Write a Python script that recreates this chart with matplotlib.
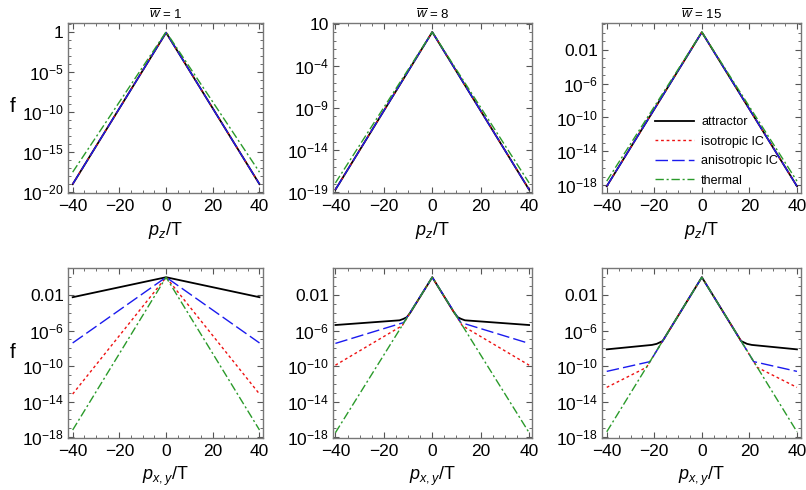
import numpy as np
import matplotlib
matplotlib.use("Agg")
from matplotlib import pyplot as plt
from matplotlib.ticker import FixedLocator, NullFormatter

plt.rcParams['font.family'] = ['Liberation Sans', 'DejaVu Sans']
plt.rcParams['mathtext.fontset'] = 'custom'
plt.rcParams['mathtext.rm'] = 'Liberation Sans'
plt.rcParams['mathtext.it'] = 'Liberation Sans:italic'

# series names and styles
names = ["attractor", "isotropic IC", "anisotropic IC", "thermal"]
titles = [r"$\overline{w}$ = 1", r"$\overline{w}$ = 8", r"$\overline{w}$ = 15"]

# ---- top row: f vs p_z/T (log10 f read at the points) ----
pz = [-40, 0, 40]
top_w1 = {
    "attractor": [-19.0, -0.1, -19.0],
    "isotropic IC": [-19.0, -0.1, -19.0],
    "anisotropic IC": [-19.0, -0.1, -19.0],
    "thermal": [-17.5, 0.0, -17.5],
}
top_w8 = {
    "attractor": [-18.7, 0.05, -18.7],
    "isotropic IC": [-18.7, 0.05, -18.7],
    "anisotropic IC": [-18.7, 0.05, -18.7],
    "thermal": [-17.9, 0.05, -17.9],
}
top_w15 = {
    "attractor": [-18.1, 0.05, -18.1],
    "isotropic IC": [-18.1, 0.05, -18.1],
    "anisotropic IC": [-18.1, 0.05, -18.1],
    "thermal": [-17.5, 0.05, -17.5],
}

# ---- bottom row: f vs p_xy/T ----
bot_w1 = {
    "attractor": ([-40, 0, 40], [-2.25, 0.0, -2.25]),
    "isotropic IC": ([-40, 0, 40], [-13.15, 0.0, -13.15]),
    "anisotropic IC": ([-40, 0, 40], [-7.4, 0.0, -7.4]),
    "thermal": ([-40, 0, 40], [-17.2, 0.0, -17.2]),
}
bot_w8 = {
    "attractor": ([-40, -13.5, -12, -10.5, -9, 0, 9, 10.5, 12, 13.5, 40],
                  [-5.38, -4.85, -4.7, -4.5, -3.96, 0.0, -3.96, -4.5, -4.7, -4.85, -5.38]),
    "isotropic IC": ([-40, -12.4, 0, 12.4, 40], [-9.9, -5.45, 0.0, -5.45, -9.9]),
    "anisotropic IC": ([-40, -11.8, 0, 11.8, 40], [-7.45, -5.1, 0.0, -5.1, -7.45]),
    "thermal": ([-40, 0, 40], [-17.5, 0.0, -17.5]),
}
bot_w15 = {
    "attractor": ([-40, -21, -19, -17.8, -16.5, 0, 16.5, 17.8, 19, 21, 40],
                  [-8.12, -7.62, -7.5, -7.35, -7.18, 0.0, -7.18, -7.35, -7.5, -7.62, -8.12]),
    "isotropic IC": ([-40, -23.3, 0, 23.3, 40], [-12.4, -10.15, 0.0, -10.15, -12.4]),
    "anisotropic IC": ([-40, -21.8, 0, 21.8, 40], [-10.6, -9.5, 0.0, -9.5, -10.6]),
    "thermal": ([-40, 0, 40], [-17.4, 0.0, -17.4]),
}

# tick labels per panel
top_yticks = [
    ([0, -5, -10, -15, -20], ["1", r"$10^{-5}$", r"$10^{-10}$", r"$10^{-15}$", r"$10^{-20}$"]),
    ([1, -4, -9, -14, -19], ["10", r"$10^{-4}$", r"$10^{-9}$", r"$10^{-14}$", r"$10^{-19}$"]),
    ([-2, -6, -10, -14, -18], ["0.01", r"$10^{-6}$", r"$10^{-10}$", r"$10^{-14}$", r"$10^{-18}$"]),
]
bot_yticks = ([-2, -6, -10, -14, -18], ["0.01", r"$10^{-6}$", r"$10^{-10}$", r"$10^{-14}$", r"$10^{-18}$"])
top_ylims = [(-20.1, 1.1), (-19.1, 1.12), (-18.9, 1.13)]
bot_ylim = (-18.1, 1.04)
xticks = [-40, -20, 0, 20, 40]
xlims = [(-42, 41.5), (-41, 41.2), (-42, 41.7)]

styles = {
    "attractor": dict(color="black", lw=1.3, ls="-"),
    "isotropic IC": dict(color="#ee1111", lw=1.0, ls=(0, (2, 2))),
    "anisotropic IC": dict(color="#1a1aee", lw=1.0, ls=(0, (9, 3))),
    "thermal": dict(color="#2a9a2a", lw=1.0, ls=(0, (6, 2, 1.5, 2))),
}

W, H = 806, 490
fig = plt.figure(figsize=(W / 100, H / 100), dpi=100)
cols = [(68, 263), (333, 532), (602, 801)]
rows = [(23, 193), (268, 438)]


def make_ax(c, r):
    x0, x1 = cols[c]
    y0, y1 = rows[r]
    ax = fig.add_axes([x0 / W, 1 - y1 / H, (x1 - x0) / W, (y1 - y0) / H])
    ax.set_yscale("log")
    for s in ax.spines.values():
        s.set_color("#777777")
        s.set_linewidth(1.0)
    ax.tick_params(which="both", direction="in", top=True, right=True,
                   color="#555555", labelsize=12.5)
    ax.tick_params(axis="y", pad=3)
    ax.tick_params(axis="x", pad=4.5)
    ax.tick_params(which="major", length=4, width=0.8)
    ax.tick_params(which="minor", length=2, width=0.6)
    return ax


top_data = [top_w1, top_w8, top_w15]
bot_data = [bot_w1, bot_w8, bot_w15]

for c in range(3):
    ax = make_ax(c, 0)
    for n in names:
        ax.plot(pz, 10.0 ** np.array(top_data[c][n]), label=n, **styles[n])
    lo, hi = top_ylims[c]
    ax.set_ylim(10 ** lo, 10 ** hi)
    ax.set_xlim(*xlims[c])
    tk, lb = top_yticks[c]
    ax.set_yticks([10.0 ** t for t in tk], lb)
    ax.yaxis.set_minor_locator(FixedLocator([10.0 ** t for t in range(-21, 2)]))
    ax.yaxis.set_minor_formatter(NullFormatter())
    ax.set_xticks(xticks)
    ax.xaxis.set_minor_locator(FixedLocator(np.arange(-40, 41, 5)))
    ax.set_xlabel(r"$p_z$/T", fontsize=13, labelpad=4)
    ax.set_title(titles[c], fontsize=9.5, pad=3)
    if c == 2:
        ax.legend(loc="upper left", bbox_to_anchor=(655 / W, 1 - 116 / H),
                  bbox_transform=fig.transFigure, frameon=False, fontsize=9,
                  handlelength=3.1, handletextpad=0.6, labelspacing=0.6,
                  borderpad=0, borderaxespad=0)

    ax = make_ax(c, 1)
    for n in names:
        px, lf = bot_data[c][n]
        ax.plot(px, 10.0 ** np.array(lf), label=n, **styles[n])
    ax.set_ylim(10 ** bot_ylim[0], 10 ** bot_ylim[1])
    ax.set_xlim(*xlims[c])
    tk, lb = bot_yticks
    ax.set_yticks([10.0 ** t for t in tk], lb)
    ax.yaxis.set_minor_locator(FixedLocator([10.0 ** t for t in range(-19, 2)]))
    ax.yaxis.set_minor_formatter(NullFormatter())
    ax.set_xticks(xticks)
    ax.xaxis.set_minor_locator(FixedLocator(np.arange(-40, 41, 5)))
    ax.set_xlabel(r"$p_{x,y}$/T", fontsize=13, labelpad=4)

# "f" labels on the left column
fig.text(13 / W, 1 - 106 / H, "f", fontsize=15, ha="center", va="center")
fig.text(13 / W, 1 - 353 / H, "f", fontsize=15, ha="center", va="center")

fig.savefig("out.png", dpi=100)
